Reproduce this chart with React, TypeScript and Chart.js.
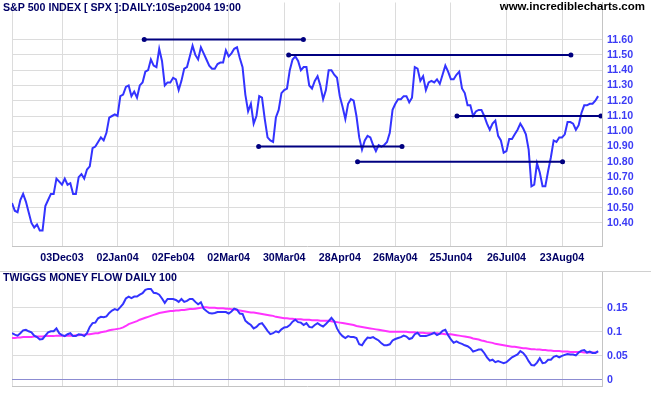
import React, { useEffect, useRef } from 'react';
import { Chart, registerables } from 'chart.js';

Chart.register(...registerables);

const FONT = '"Liberation Sans", Arial, Helvetica, sans-serif';

// x axis: trading-day index, labelled every 20 sessions
const dateTickIdx = [18, 38, 58, 78, 98, 118, 138, 158, 178, 198];
const dateTickLabels = ['03Dec03', '02Jan04', '02Feb04', '02Mar04', '30Mar04', '28Apr04', '26May04', '25Jun04', '26Jul04', '23Aug04'];

const priceTicks = [10.4, 10.5, 10.6, 10.7, 10.8, 10.9, 11.0, 11.1, 11.2, 11.3, 11.4, 11.5, 11.6];
const flowTicks = [0, 0.05, 0.1, 0.15];
const flowTickLabels = ['0', '0.05', '0.1', '0.15'];

// S&P 500 (/100), daily closes 06Nov03 .. 10Sep04
const price = [
  10.53, 10.48, 10.47, 10.55, 10.59, 10.54, 10.47, 10.40, 10.37, 10.39,
  10.35, 10.35, 10.51, 10.55, 10.59, 10.59, 10.69, 10.67, 10.65, 10.69,
  10.65, 10.66, 10.59, 10.59, 10.70, 10.72, 10.69, 10.75, 10.77, 10.89,
  10.90, 10.93, 10.96, 10.94, 10.99, 11.09, 11.10, 11.11, 11.10, 11.23,
  11.24, 11.29, 11.30, 11.23, 11.26, 11.22, 11.30, 11.32, 11.39, 11.40,
  11.47, 11.43, 11.42, 11.54, 11.46, 11.30, 11.32, 11.32, 11.35, 11.34,
  11.27, 11.33, 11.41, 11.42, 11.49, 11.56, 11.50, 11.47, 11.55, 11.51,
  11.47, 11.43, 11.41, 11.41, 11.44, 11.45, 11.45, 11.53, 11.49, 11.51,
  11.54, 11.55, 11.48, 11.42, 11.24, 11.13, 11.18, 11.05, 11.10, 11.23,
  11.22, 11.08, 10.96, 10.94, 10.93, 11.09, 11.14, 11.25, 11.27, 11.28,
  11.40, 11.47, 11.49, 11.46, 11.40, 11.42, 11.42, 11.30, 11.28, 11.33,
  11.36, 11.30, 11.21, 11.27, 11.40, 11.40, 11.37, 11.35, 11.23, 11.16,
  11.08, 11.18, 11.21, 11.20, 11.10, 10.96, 10.88, 10.94, 10.97, 10.96,
  10.91, 10.87, 10.91, 10.90, 10.91, 10.93, 10.99, 11.14, 11.18, 11.21,
  11.21, 11.23, 11.23, 11.19, 11.22, 11.42, 11.41, 11.33, 11.36, 11.27,
  11.32, 11.33, 11.32, 11.34, 11.31, 11.37, 11.43, 11.39, 11.34, 11.34,
  11.37, 11.39, 11.28, 11.25, 11.17, 11.17, 11.10, 11.13, 11.14, 11.14,
  11.10, 11.05, 11.01, 11.05, 11.07, 10.97, 10.94, 10.86, 10.87, 10.95,
  10.95, 10.98, 11.01, 11.05, 11.02, 10.98, 10.88, 10.64, 10.65, 10.79,
  10.73, 10.64, 10.64, 10.74, 10.83, 10.94, 10.93, 10.96, 10.96, 10.98,
  11.06, 11.06, 11.05, 11.01, 11.04, 11.12, 11.17, 11.17, 11.18, 11.18,
  11.20, 11.23,
];

// Twiggs Money Flow (100)
const moneyFlow = [
  0.097, 0.094, 0.092, 0.097, 0.103, 0.104, 0.101, 0.099, 0.092, 0.089,
  0.084, 0.085, 0.092, 0.099, 0.101, 0.101, 0.107, 0.097, 0.093, 0.091,
  0.095, 0.097, 0.091, 0.091, 0.095, 0.094, 0.091, 0.097, 0.110, 0.118,
  0.119, 0.128, 0.131, 0.130, 0.132, 0.139, 0.144, 0.147, 0.145, 0.151,
  0.158, 0.169, 0.173, 0.170, 0.173, 0.173, 0.177, 0.180, 0.187, 0.189,
  0.189, 0.181, 0.180, 0.177, 0.169, 0.160, 0.168, 0.168, 0.168, 0.166,
  0.162, 0.168, 0.162, 0.164, 0.168, 0.168, 0.162, 0.157, 0.161, 0.148,
  0.143, 0.139, 0.138, 0.139, 0.141, 0.141, 0.141, 0.141, 0.138, 0.142,
  0.148, 0.146, 0.138, 0.137, 0.123, 0.118, 0.114, 0.107, 0.110, 0.116,
  0.118, 0.110, 0.102, 0.095, 0.097, 0.101, 0.099, 0.105, 0.109, 0.110,
  0.114, 0.121, 0.125, 0.120, 0.119, 0.114, 0.118, 0.110, 0.109, 0.114,
  0.118, 0.114, 0.111, 0.116, 0.122, 0.129, 0.122, 0.107, 0.097, 0.091,
  0.087, 0.091, 0.089, 0.089, 0.087, 0.074, 0.072, 0.081, 0.088, 0.087,
  0.089, 0.085, 0.082, 0.076, 0.072, 0.072, 0.074, 0.082, 0.085, 0.087,
  0.089, 0.092, 0.090, 0.085, 0.087, 0.095, 0.098, 0.091, 0.091, 0.091,
  0.093, 0.095, 0.098, 0.093, 0.096, 0.102, 0.104, 0.093, 0.084, 0.077,
  0.080, 0.077, 0.075, 0.072, 0.070, 0.066, 0.059, 0.061, 0.063, 0.063,
  0.056, 0.047, 0.040, 0.042, 0.037, 0.039, 0.037, 0.035, 0.037, 0.042,
  0.047, 0.050, 0.053, 0.060, 0.056, 0.049, 0.039, 0.031, 0.030, 0.036,
  0.045, 0.035, 0.036, 0.042, 0.042, 0.048, 0.050, 0.047, 0.050, 0.052,
  0.054, 0.053, 0.053, 0.051, 0.057, 0.061, 0.062, 0.057, 0.059, 0.056,
  0.056, 0.060,
];

// signal line (moving average of money flow)
const moneyFlowMA = [
  0.087, 0.087, 0.088, 0.088, 0.089, 0.089, 0.089, 0.089, 0.090, 0.090,
  0.090, 0.090, 0.091, 0.091, 0.091, 0.091, 0.092, 0.092, 0.092, 0.092,
  0.092, 0.092, 0.092, 0.093, 0.093, 0.094, 0.094, 0.095, 0.095, 0.096,
  0.097, 0.097, 0.099, 0.100, 0.101, 0.103, 0.104, 0.105, 0.106, 0.107,
  0.109, 0.112, 0.116, 0.118, 0.120, 0.122, 0.125, 0.127, 0.129, 0.131,
  0.133, 0.135, 0.137, 0.139, 0.140, 0.141, 0.142, 0.143, 0.143, 0.144,
  0.144, 0.145, 0.145, 0.146, 0.147, 0.147, 0.148, 0.149, 0.150, 0.151,
  0.151, 0.150, 0.150, 0.150, 0.149, 0.149, 0.149, 0.148, 0.148, 0.147,
  0.146, 0.145, 0.144, 0.143, 0.142, 0.141, 0.140, 0.140, 0.139, 0.138,
  0.137, 0.136, 0.135, 0.134, 0.133, 0.131, 0.130, 0.129, 0.128, 0.128,
  0.127, 0.127, 0.126, 0.126, 0.126, 0.125, 0.125, 0.125, 0.124, 0.124,
  0.124, 0.123, 0.123, 0.123, 0.123, 0.122, 0.121, 0.120, 0.119, 0.118,
  0.117, 0.116, 0.115, 0.114, 0.112, 0.111, 0.110, 0.109, 0.108, 0.107,
  0.106, 0.105, 0.104, 0.103, 0.102, 0.101, 0.100, 0.100, 0.100, 0.100,
  0.100, 0.100, 0.100, 0.099, 0.099, 0.099, 0.098, 0.098, 0.098, 0.097,
  0.097, 0.097, 0.097, 0.097, 0.096, 0.096, 0.095, 0.095, 0.095, 0.094,
  0.093, 0.092, 0.091, 0.090, 0.089, 0.088, 0.086, 0.085, 0.084, 0.082,
  0.081, 0.079, 0.078, 0.077, 0.075, 0.074, 0.073, 0.072, 0.071, 0.070,
  0.069, 0.069, 0.068, 0.067, 0.066, 0.066, 0.065, 0.064, 0.064, 0.063,
  0.063, 0.062, 0.062, 0.061, 0.061, 0.060, 0.060, 0.060, 0.059, 0.059,
  0.059, 0.058, 0.058, 0.058, 0.058, 0.058, 0.057, 0.057, 0.057, 0.057,
  0.057, 0.058,
];

// horizontal support / resistance lines
const trendStart = [47.6, 99.6, 160.2, 88.8, 124.4];
const trendEnd = [104.9, 201.2, 212.0, 140.4, 198.2];
const trendLevel = [11.6, 11.5, 11.1, 10.9, 10.8];

const X_MAX = 212.4;
const GRID = '#dcdcdc';
const BORDER = '#c4c4c4';

function zeroPad(s: any) {
  s.paddingTop = 0;
  s.paddingBottom = 0;
  s.paddingLeft = 0;
  s.paddingRight = 0;
}

function xAxis(showLabels: boolean, height: number) {
  return {
    type: 'linear' as const,
    min: 0,
    max: X_MAX,
    afterBuildTicks: (s: any) => {
      s.ticks = [0, ...dateTickIdx].map((v) => ({ value: v }));
    },
    afterFit: (s: any) => {
      s.height = height;
      zeroPad(s);
    },
    grid: { color: GRID, lineWidth: 1, drawTicks: false },
    border: { display: true, color: BORDER },
    ticks: {
      display: showLabels,
      autoSkip: false,
      maxRotation: 0,
      minRotation: 0,
      padding: 6,
      color: '#000066',
      font: { family: FONT, size: 10.67, weight: 'bold' as const },
      callback: (v: any) => {
        const k = dateTickIdx.indexOf(Number(v));
        return k >= 0 ? dateTickLabels[k] : '';
      },
    },
  };
}

export default function App() {
  const topRef = useRef<HTMLCanvasElement | null>(null);
  const botRef = useRef<HTMLCanvasElement | null>(null);

  useEffect(() => {
    const trendSets = trendLevel.map((lvl, k) => ({
      data: [
        { x: trendStart[k], y: lvl },
        { x: trendEnd[k], y: lvl },
      ],
      borderColor: '#000080',
      backgroundColor: '#000080',
      borderWidth: 2,
      pointRadius: 2.5,
      pointBackgroundColor: '#000080',
      pointBorderWidth: 0,
      pointHoverRadius: 0,
    }));

    const top = new Chart(topRef.current as HTMLCanvasElement, {
      type: 'line',
      data: {
        datasets: [
          ...trendSets,
          {
            data: price.map((v, i) => ({ x: i, y: v })),
            borderColor: '#3333ff',
            borderWidth: 2,
            pointRadius: 0,
            tension: 0,
          },
        ],
      },
      options: {
        animation: false,
        responsive: false,
        maintainAspectRatio: false,
        events: [],
        layout: { padding: { left: 12, top: 0, right: 0, bottom: 0 } },
        plugins: { legend: { display: false }, tooltip: { enabled: false } },
        scales: {
          x: xAxis(true, 20) as any,
          y: {
            type: 'linear',
            position: 'right',
            min: 10.249,
            max: 11.843,
            afterBuildTicks: (s: any) => {
              s.ticks = priceTicks.map((v) => ({ value: v }));
            },
            afterFit: (s: any) => {
              s.width = 49;
              zeroPad(s);
            },
            grid: { color: GRID, lineWidth: 1, drawTicks: false },
            border: { display: true, color: BORDER },
            ticks: {
              padding: 5,
              color: '#3c3cf5',
              font: { family: FONT, size: 10.67, weight: 'bold' },
              callback: (v: any) => Number(v).toFixed(2),
            },
          },
        },
      },
    });

    const bot = new Chart(botRef.current as HTMLCanvasElement, {
      type: 'line',
      data: {
        datasets: [
          {
            data: moneyFlow.map((v, i) => ({ x: i, y: v })),
            borderColor: '#3333ff',
            borderWidth: 2,
            pointRadius: 0,
            tension: 0,
          },
          {
            data: moneyFlowMA.map((v, i) => ({ x: i, y: v })),
            borderColor: '#ff33ff',
            borderWidth: 2,
            pointRadius: 0,
            tension: 0,
          },
        ],
      },
      options: {
        animation: false,
        responsive: false,
        maintainAspectRatio: false,
        events: [],
        layout: { padding: { left: 12, top: 9, right: 0, bottom: 0 } },
        plugins: { legend: { display: false }, tooltip: { enabled: false } },
        scales: {
          x: xAxis(false, 9) as any,
          y: {
            type: 'linear',
            position: 'right',
            min: -0.0125,
            max: 0.2261,
            afterBuildTicks: (s: any) => {
              s.ticks = flowTicks.map((v) => ({ value: v }));
            },
            afterFit: (s: any) => {
              s.width = 49;
              zeroPad(s);
            },
            grid: {
              color: (ctx: any) => (ctx.tick && ctx.tick.value === 0 ? '#8c8cd2' : GRID),
              lineWidth: 1,
              drawTicks: false,
            },
            border: { display: true, color: BORDER },
            ticks: {
              padding: 5,
              color: '#3c3cf5',
              font: { family: FONT, size: 10.67, weight: 'bold' },
              callback: (v: any) => {
                const k = flowTicks.indexOf(Number(v));
                return k >= 0 ? flowTickLabels[k] : '';
              },
            },
          },
        },
      },
    });

    return () => {
      top.destroy();
      bot.destroy();
    };
  }, []);

  const textBase: React.CSSProperties = {
    position: 'absolute',
    fontFamily: FONT,
    fontWeight: 'bold',
    whiteSpace: 'nowrap',
    lineHeight: '12px',
    zIndex: 2,
  };

  return (
    <div style={{ position: 'absolute', left: 0, top: 0, width: 651, height: 395, background: '#ffffff', overflow: 'hidden' }}>
      <canvas
        ref={topRef}
        width={651}
        height={266}
        style={{ position: 'absolute', left: 0, top: 0, width: 651, height: 266, display: 'block' }}
      />
      <canvas
        ref={botRef}
        width={651}
        height={133}
        style={{ position: 'absolute', left: 0, top: 262, width: 651, height: 133, display: 'block' }}
      />
      <div style={{ position: 'absolute', left: 0, top: 271, width: 651, height: 1, background: '#d0d0d0', zIndex: 1 }} />
      <div style={{ ...textBase, left: 3, top: 1, fontSize: '10.67px', color: '#000066' }}>
        S&amp;P 500 INDEX [ SPX ]:DAILY:10Sep2004 19:00
      </div>
      <div style={{ ...textBase, right: 6, top: 0, fontSize: '11.5px', lineHeight: '13px', color: '#000000' }}>
        www.incrediblecharts.com
      </div>
      <div style={{ ...textBase, left: 3, top: 271, fontSize: '10.67px', color: '#000066' }}>
        TWIGGS MONEY FLOW DAILY 100
      </div>
    </div>
  );
}
